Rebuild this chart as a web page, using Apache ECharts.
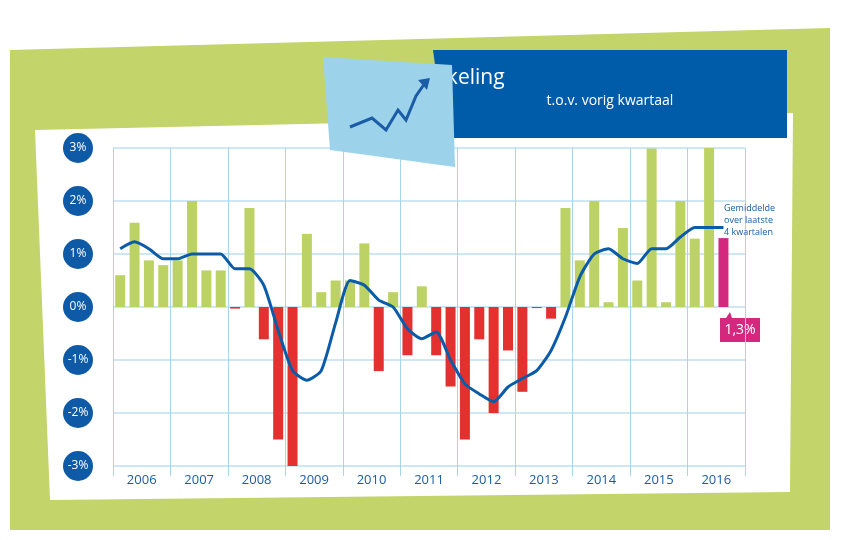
<!DOCTYPE html>
<html><head><meta charset="utf-8">
<script src="https://cdn.jsdelivr.net/npm/echarts@6/dist/echarts.min.js"></script>
<style>html,body{margin:0;padding:0;background:#fff}#c{width:844px;height:540px}</style>
</head><body><div id="c"></div>
<script>
const years = ['2006','2007','2008','2009','2010','2011','2012','2013','2014','2015','2016'];
const quarterly = [0.6,1.59,0.88,0.79,0.88,2.0,0.69,0.69,-0.03,1.87,-0.61,-2.5,-3.0,1.38,0.28,0.5,0.5,1.2,-1.21,0.28,-0.91,0.39,-0.91,-1.5,-2.5,-0.61,-2.0,-0.82,-1.6,-0.02,-0.22,1.87,0.88,2.0,0.09,1.49,0.5,2.99,0.09,2.0,1.29,3.1,1.3];
const average = [1.1,1.23,1.1,0.91,0.91,1.0,1.0,1.0,0.72,0.72,0.41,-0.44,-1.2,-1.38,-1.2,-0.3,0.5,0.41,0.13,0,-0.41,-0.6,-0.47,-1.0,-1.45,-1.64,-1.79,-1.51,-1.35,-1.2,-0.82,-0.19,0.57,1.0,1.1,0.91,0.82,1.1,1.1,1.32,1.5,1.5,1.5];
const yTicks = [-3,-2,-1,0,1,2,3];
const quarters = [];
years.forEach(y => { for (let q = 1; q <= 4; q++) quarters.push(y + 'Q' + q); });
const lastIdx = quarterly.length - 1;
const chart = echarts.init(document.getElementById('c'));
chart.setOption({
  animation: false,
  backgroundColor: '#fff',
  graphic: [
    {type:'polygon', z:-10, shape:{points:[[10,50],[830,28],[830,530],[10,530]]}, style:{fill:'#c2d46a'}},
    {type:'polygon', z:-9, shape:{points:[[35,130],[793,113],[790,492],[50,500]]}, style:{fill:'#fff'}},
    {type:'polygon', z:5, shape:{points:[[433,50],[787,50],[787,138],[445,138]]}, style:{fill:'#005ca9'}},
    {type:'text', z:6, left:'center', style:{text:'Prijsontwikkeling', x:610, y:68, fill:'#fff', font:'21px "Open Sans"', align:'center'}},
    {type:'text', z:6, style:{text:'t.o.v. vorig kwartaal', x:610, y:94, fill:'#fff', font:'14px "Open Sans"', align:'center'}},
    {type:'polygon', z:7, shape:{points:[[323,57],[452,65],[455,167],[330,150]]}, style:{fill:'#9dd3ea'}},
    {type:'polyline', z:8, shape:{points:[[350,127],[372,118],[386,130],[398,110],[406,120],[416,96],[425,83]]}, style:{stroke:'#1a5ca8', lineWidth:3, fill:null}},
    {type:'polygon', z:8, shape:{points:[[418,80],[430,78],[427,90]]}, style:{fill:'#1a5ca8'}},
    {type:'text', z:6, style:{text:'Gemiddelde\nover laatste\n4 kwartalen', x:724, y:202, fill:'#1a5ca8', font:'9px "Open Sans"', lineHeight:12}},
    {type:'group', z:6, children:[
      {type:'polygon', shape:{points:[[720,318],[726,318],[730,312],[732,318],[760,318],[760,342],[720,342]]}, style:{fill:'#d4287e'}},
      {type:'text', style:{text:'1,3%', x:740, y:330, fill:'#fff', font:'14px "Open Sans"', align:'center', verticalAlign:'middle'}}
    ]}
  ],
  grid: {left:113, right:99, top:148, bottom:74},
  xAxis: [
    {type:'category', data:quarters, boundaryGap:true, show:false},
    {type:'category', data:years, boundaryGap:true, position:'bottom',
     axisLine:{show:false}, axisTick:{show:true, length:10, inside:false, lineStyle:{color:'#a9d4ea'}},
     axisLabel:{color:'#1a5ca8', fontSize:13, fontFamily:'Open Sans', margin:8},
     splitLine:{show:true, lineStyle:{color:'#a9d4ea', width:1}}}
  ],
  yAxis: {type:'value', min:-3, max:3, interval:1,
    axisLine:{show:false}, axisTick:{show:false},
    splitLine:{lineStyle:{color:'#bcdff0', width:1.5}},
    axisLabel:{margin:20, formatter: v => yTicks.includes(v) ? '{b|' + v + '%}' : '',
      rich:{b:{backgroundColor:'#0f5aa6', color:'#fff', width:30, height:30, borderRadius:15, align:'center', fontSize:12, fontFamily:'Open Sans'}}}},
  series: [
    {type:'bar', xAxisIndex:0, barWidth:10, z:2,
     data: quarterly.map((v,i) => ({value:v, itemStyle:{color: i===lastIdx ? '#d4287e' : (v>=0 ? '#bdd264' : '#e3312f')}}))},
    {type:'line', xAxisIndex:0, data:average, symbol:'none', smooth:0.2, z:3,
     lineStyle:{color:'#0a5ca8', width:3}}
  ]
});
</script></body></html>
